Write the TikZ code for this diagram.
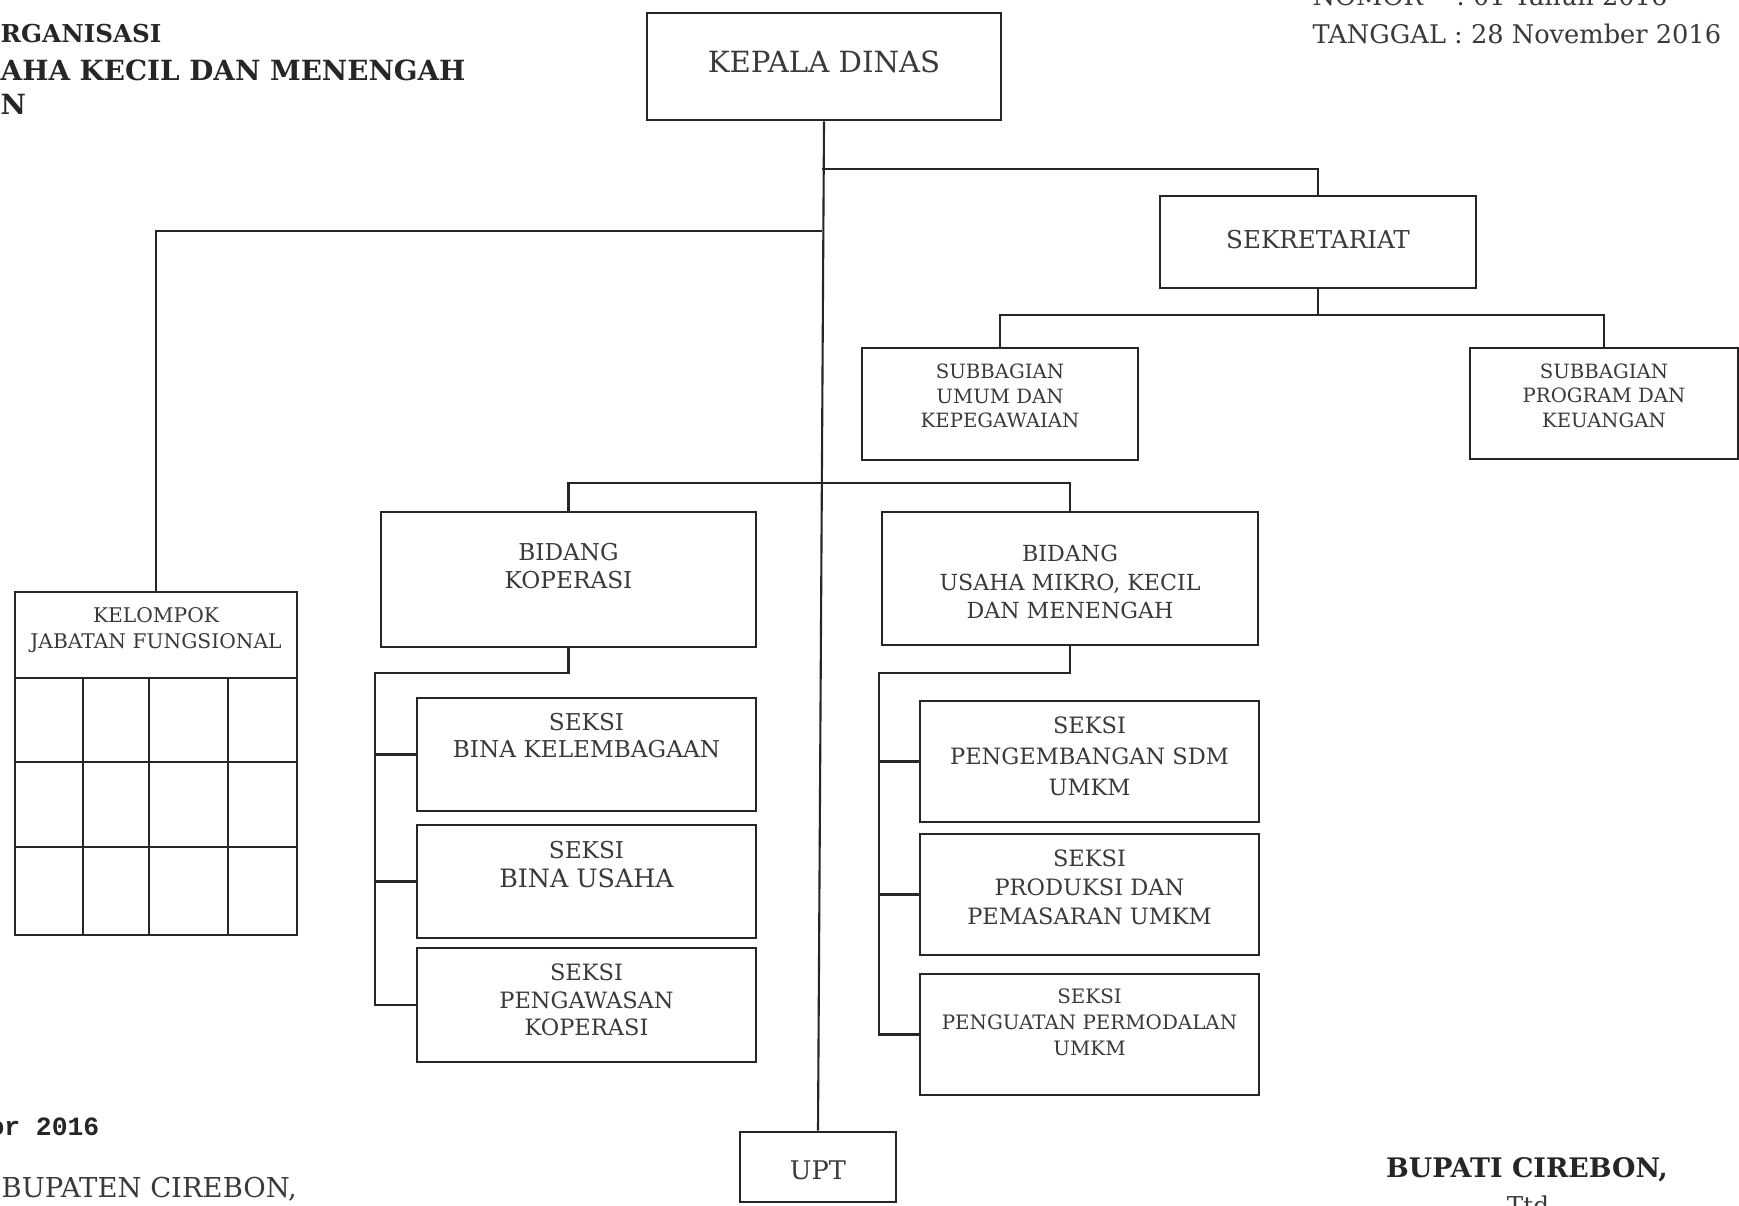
\documentclass[tikz,border=0pt]{standalone}
\usepackage{fontspec}
\setmainfont{DejaVu Serif}
\newfontfamily\monob{Liberation Mono}
\newcommand{\setfs}[2]{\fontsize{#1}{#2}\selectfont}
\definecolor{ink}{HTML}{262626}
\definecolor{txtc}{HTML}{3a3a3a}
\tikzset{
  box/.style={draw=ink, line width=0.75pt, inner sep=0pt, fill=white},
  link/.style={draw=ink, line width=0.6pt},
  lbl/.style={align=center, text=txtc, inner sep=0pt},
  plain/.style={inner sep=0pt, text=txtc},
}
\begin{document}
\begin{tikzpicture}[x=0.01cm, y=-0.01cm]
\useasboundingbox (0,0) rectangle (1739,1205);
\fill[white] (0,0) rectangle (1739,1205);
\clip (0,0) rectangle (1739,1205);

% heading lines at the left margin
\node[plain, anchor=west, text=ink, font=\bfseries\setfs{7.0}{10}] (hd1) at (0,34) {RGANISASI};
\node[plain, anchor=west, text=ink, font=\bfseries\setfs{7.9}{10}] (hd2) at (0,70) {AHA KECIL DAN MENENGAH};
\node[plain, anchor=west, text=ink, font=\bfseries\setfs{7.9}{10}] (hd3) at (0,104) {N};

% decree reference, top right
\node[plain, anchor=base west, font=\setfs{7.3}{9}] (nomor) at (1312,5) {NOMOR\hspace{1.3em}: 01 Tahun 2016};
\node[plain, anchor=base west, font=\setfs{7.3}{9}] (tgl) at (1312,43) {TANGGAL : 28 November 2016};

% top level
\node[box, minimum width=3.54cm, minimum height=1.07cm,
  label={[lbl, yshift=0.05cm, font=\setfs{8.3}{10}]center:KEPALA DINAS}] (kepala) at (824,66.5) {};
\node[box, minimum width=3.16cm, minimum height=0.92cm,
  label={[lbl, yshift=0.02cm, font=\setfs{7.0}{9}]center:SEKRETARIAT}] (sek) at (1318,242) {};

% secretariat sub-sections
\node[box, minimum width=2.76cm, minimum height=1.12cm,
  label={[lbl, yshift=0.08cm, font=\setfs{5.6}{7.0}]center:{SUBBAGIAN\\UMUM DAN\\KEPEGAWAIAN}}] (sub1) at (1000,404) {};
\node[box, minimum width=2.68cm, minimum height=1.11cm,
  label={[lbl, yshift=0.08cm, font=\setfs{5.6}{7.0}]center:{SUBBAGIAN\\PROGRAM DAN\\KEUANGAN}}] (sub2) at (1604,403.5) {};

% functional group table
\node[box, minimum width=2.82cm, minimum height=3.43cm,
  label={[lbl, yshift=1.335cm, font=\setfs{5.75}{7.4}]center:{KELOMPOK\\JABATAN FUNGSIONAL}}] (kel) at (156,763.5) {};
\draw[link, line width=0.75pt] (15,678) -- (297,678);
\draw[link, line width=0.75pt] (15,762) -- (297,762);
\draw[link, line width=0.75pt] (15,847) -- (297,847);
\draw[link, line width=0.75pt] (83,678) -- (83,935);
\draw[link, line width=0.75pt] (149,678) -- (149,935);
\draw[link, line width=0.75pt] (228,678) -- (228,935);

% divisions
\node[box, minimum width=3.75cm, minimum height=1.35cm,
  label={[lbl, yshift=0.135cm, font=\setfs{6.6}{8.1}]center:{BIDANG\\KOPERASI}}] (bidkop) at (568.5,579.5) {};
\node[box, minimum width=3.76cm, minimum height=1.33cm,
  label={[lbl, yshift=-0.035cm, font=\setfs{6.3}{8.1}]center:{BIDANG\\USAHA MIKRO, KECIL\\DAN MENENGAH}}] (bidumkm) at (1070,578.5) {};

% cooperative sections
\node[box, minimum width=3.39cm, minimum height=1.13cm,
  label={[lbl, yshift=0.19cm, font=\setfs{6.6}{7.7}]center:{SEKSI\\BINA KELEMBAGAAN}}] (sk1) at (586.5,754.5) {};
\node[box, minimum width=3.39cm, minimum height=1.13cm,
  label={[lbl, yshift=0.17cm, font=\setfs{6.6}{8.0}]center:{SEKSI\\{\setfs{7.2}{8.0}BINA USAHA}}}] (sk2) at (586.5,881.5) {};
\node[box, minimum width=3.39cm, minimum height=1.14cm,
  label={[lbl, yshift=0.05cm, font=\setfs{6.4}{7.8}]center:{SEKSI\\PENGAWASAN\\KOPERASI}}] (sk3) at (586.5,1005) {};

% SME sections
\node[box, minimum width=3.39cm, minimum height=1.21cm,
  label={[lbl, yshift=0.055cm, font=\setfs{6.4}{8.8}]center:{SEKSI\\PENGEMBANGAN SDM\\UMKM}}] (su1) at (1089.5,761.5) {};
\node[box, minimum width=3.39cm, minimum height=1.21cm,
  label={[lbl, yshift=0.075cm, font=\setfs{6.4}{8.2}]center:{SEKSI\\PRODUKSI DAN\\PEMASARAN UMKM}}] (su2) at (1089.5,894.5) {};
\node[box, minimum width=3.39cm, minimum height=1.21cm,
  label={[lbl, yshift=0.125cm, font=\setfs{5.65}{7.4}]center:{SEKSI\\PENGUATAN PERMODALAN\\UMKM}}] (su3) at (1089.5,1034.5) {};

% technical unit
\node[box, minimum width=1.56cm, minimum height=0.70cm,
  label={[lbl, yshift=-0.03cm, font=\setfs{7.3}{9}]center:UPT}] (upt) at (818,1167) {};

% junctions on the main line
\coordinate (jS) at (822,169);
\coordinate (jK) at (822,231);
\coordinate (jB) at (822,483);
\coordinate (jSub) at (1318,315);
\coordinate (kopbus) at (375,673);
\coordinate (umbus) at (879,673);

% connectors
\draw[link] (kepala.south) -- (upt.north);
\draw[link] (jS) -| (sek.north);
\draw[link] (jK) -| (kel.north);
\draw[link] (sek.south) -- (jSub);
\draw[link] (sub1.north) |- (jSub) -| (sub2.north);
\draw[link] (bidkop.north) |- (jB) -| (bidumkm.north);

\draw[link] (bidkop.south) |- (kopbus) |- (sk3.west);
\draw[link] (kopbus |- sk1.west) -- (sk1.west);
\draw[link] (kopbus |- sk2.west) -- (sk2.west);

\draw[link] (bidumkm.south) |- (umbus) |- (su3.west);
\draw[link] (umbus |- su1.west) -- (su1.west);
\draw[link] (umbus |- su2.west) -- (su2.west);

% signature area
\node[plain, anchor=base east, text=ink, font=\monob\bfseries\setfs{7.5}{9}] (ttgl) at (100,1135) {or 2016};
\node[plain, anchor=base west, font=\setfs{7.8}{9}] (kab) at (1,1197) {BUPATEN CIREBON,};
\node[plain, anchor=base, text=ink, font=\bfseries\setfs{7.65}{9}] (bup) at (1527,1177) {BUPATI CIREBON,};
\node[plain, anchor=north, font=\setfs{7}{9}] (ttd) at (1528,1195) {Ttd};
\end{tikzpicture}
\end{document}
